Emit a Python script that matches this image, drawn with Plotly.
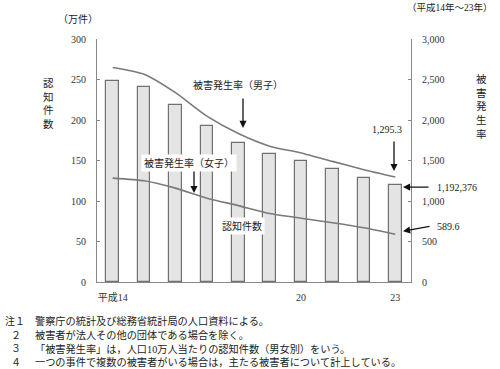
import plotly.graph_objects as go

years = [14, 15, 16, 17, 18, 19, 20, 21, 22, 23]
cases = [248.6, 240.5, 218.8, 192.0, 171.5, 158.2, 149.3, 139.4, 129.0, 119.2376]   # 万件
rate_male = [2648, 2565, 2337, 2047, 1833, 1677, 1593, 1489, 1386, 1295.3]
rate_female = [1283, 1250, 1159, 1035, 943, 845, 787, 732, 670, 589.6]
x_tickvals = [14, 20, 23]
x_ticktext = ["平成14", "20", "23"]
notes = [
    ("注１", "警察庁の統計及び総務省統計局の人口資料による。"),
    ("２", "被害者が法人その他の団体である場合を除く。"),
    ("３", "「被害発生率」は，人口10万人当たりの認知件数（男女別）をいう。"),
    ("４", "一つの事件で複数の被害者がいる場合は，主たる被害者について計上している。"),
]

FONT = "Liberation Serif, Noto Sans CJK JP, serif"
W, H = 500, 369
L, R, T, B = 97, 411, 39.3, 281.7


def px(x):
    return (x - L) / (R - L)


def py(y):
    return (B - y) / (B - T)


fig = go.Figure()
fig.add_trace(go.Bar(
    x=years, y=cases, width=0.4,
    marker=dict(color="#e4e4e4", line=dict(color="#707070", width=1.2)),
    showlegend=False, hoverinfo="skip"))
fig.add_trace(go.Scatter(
    x=years, y=rate_male, yaxis="y2", mode="lines",
    line=dict(color="#7a7a7a", width=1.6, shape="spline", smoothing=0.6),
    showlegend=False))
fig.add_trace(go.Scatter(
    x=years, y=rate_female, yaxis="y2", mode="lines",
    line=dict(color="#7a7a7a", width=1.6, shape="spline", smoothing=0.6),
    showlegend=False))

ann = []


def text(x, y, t, size=10, xanchor="center", bg=None, color="#222"):
    d = dict(x=px(x), y=py(y), xref="paper", yref="paper", text=t,
             showarrow=False, xanchor=xanchor, yanchor="middle",
             font=dict(family=FONT, size=size, color=color))
    if bg:
        d["bgcolor"] = bg
        d["borderpad"] = 2
    ann.append(d)


def arrow(x0, y0, x1, y1):
    ann.append(dict(x=px(x1), y=py(y1), xref="paper", yref="paper",
                    ax=x0 - x1, ay=y0 - y1, axref="pixel", ayref="pixel",
                    text="", showarrow=True, arrowhead=2, arrowsize=1.1,
                    arrowwidth=1.3, arrowcolor="#111"))


text(78, 20, "（万件）", size=10)
text(495, 8, "（平成14年～23年）", size=9.5, xanchor="right")
text(48, 104, "認<br>知<br>件<br>数", size=10.5)
text(481, 107, "被<br>害<br>発<br>生<br>率", size=10.5)

text(238, 85, "被害発生率（男子）", size=10, bg="white")
arrow(243, 97, 243, 128)
text(189, 163, "被害発生率（女子）", size=10, bg="white")
arrow(194, 170, 194, 193)
text(242, 226, "認知件数", size=10, bg="white")
text(387, 130, "1,295.3", size=10)
arrow(394, 140, 394, 171)
text(435, 187, "1,192,376", size=10, xanchor="left")
arrow(430, 187, 403, 187)
text(435, 226, "589.6", size=10, xanchor="left")
arrow(431, 226, 403, 231)

for i, (num, body) in enumerate(notes):
    yy = 321 + i * 13.6
    text(16 if i else 3, yy, num, size=10, xanchor="left" if i == 0 else "center")
    text(33, yy, body, size=10.2, xanchor="left")

fig.update_layout(
    width=W, height=H,
    margin=dict(l=L, r=W - R, t=T, b=H - B, pad=0),
    paper_bgcolor="white", plot_bgcolor="white",
    font=dict(family=FONT, size=10, color="#333"),
    bargap=0,
    xaxis=dict(range=[13.5, 23.5], tickvals=x_tickvals, ticktext=x_ticktext,
               showgrid=False, zeroline=False, showline=True,
               linecolor="#888", linewidth=1, ticks="",
               ticklabelstandoff=6, tickfont=dict(size=10)),
    yaxis=dict(range=[0, 300], dtick=50, showgrid=False, zeroline=False,
               showline=True, linecolor="#888", linewidth=1,
               ticks="inside", ticklen=3, tickcolor="#888",
               ticklabelstandoff=8, tickfont=dict(size=10)),
    yaxis2=dict(range=[0, 3000], dtick=500, overlaying="y", side="right",
                showgrid=False, zeroline=False, showline=True,
                linecolor="#888", linewidth=1, tickformat=",",
                ticks="inside", ticklen=3, tickcolor="#888",
                ticklabelstandoff=8, tickfont=dict(size=10)),
    annotations=ann,
)
fig.write_html("out.html", config={"displayModeBar": False},
               post_script="document.body.style.margin='0';document.body.style.overflow='hidden';")
